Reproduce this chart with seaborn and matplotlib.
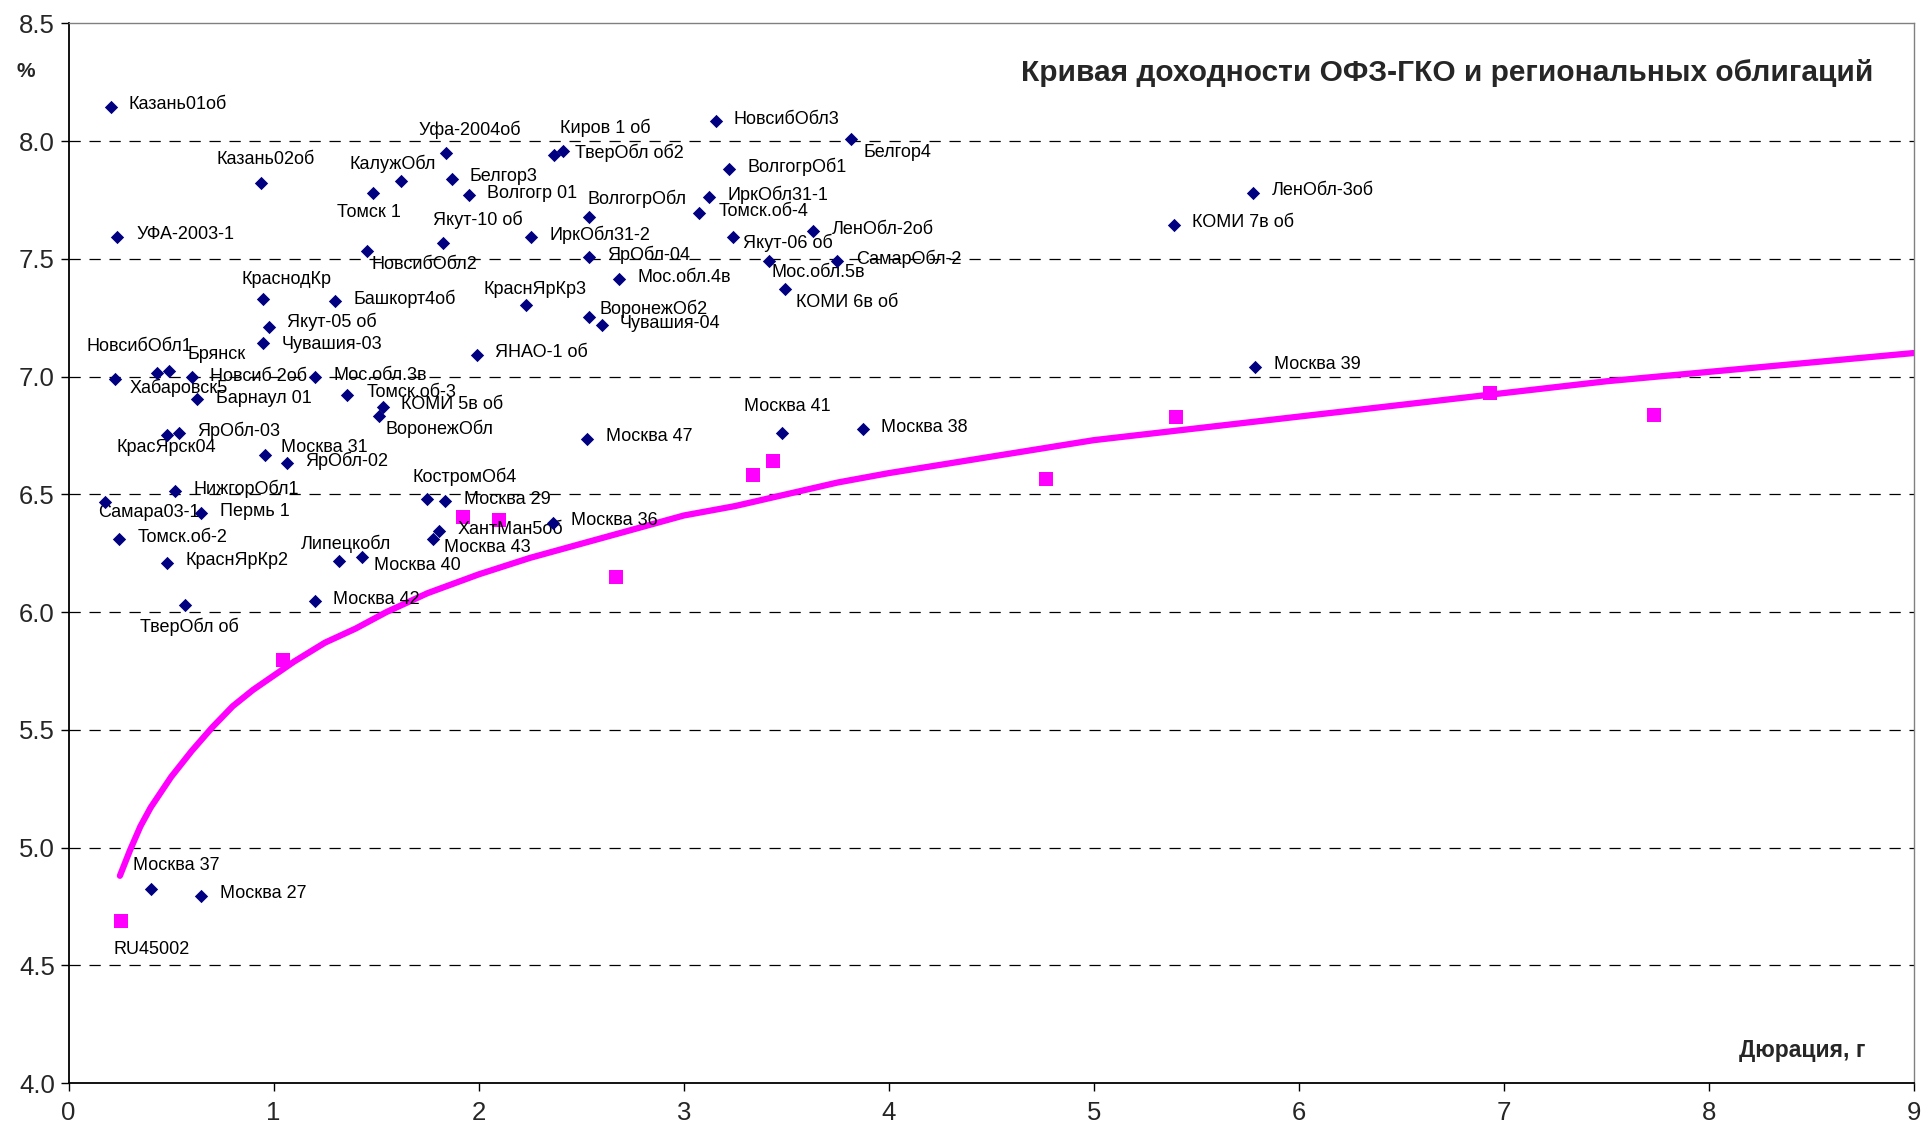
import matplotlib
matplotlib.use("Agg")
import pandas as pd
import seaborn as sns
import matplotlib.pyplot as plt

# regional bonds: name, duration (years), yield (%)
region_names = [
    "Казань01об", "УФА-2003-1", "Казань02об", "Томск 1", "КалужОбл", "Уфа-2004об",
    "Белгор3", "Волгогр 01", "Якут-10 об", "НовсибОбл2", "ИркОбл31-2", "Киров 1 об",
    "ТверОбл об2", "ВолгогрОбл", "ЯрОбл-04", "Мос.обл.4в", "КраснЯрКр3", "ВоронежОб2",
    "Чувашия-04", "ЯНАО-1 об", "НовсибОбл3", "ВолгогрОб1", "ИркОбл31-1", "Томск.об-4",
    "Якут-06 об", "Мос.обл.5в", "КОМИ 6в об", "ЛенОбл-2об", "СамарОбл-2", "Белгор4",
    "КОМИ 7в об", "ЛенОбл-3об", "Москва 39", "КраснодКр", "Башкорт4об", "Якут-05 об",
    "Чувашия-03", "НовсибОбл1", "Хабаровск5", "Брянск", "Новсиб 2об", "Мос.обл.3в",
    "Барнаул 01", "Томск.об-3", "КОМИ 5в об", "ВоронежОбл", "КрасЯрск04", "ЯрОбл-03",
    "Москва 31", "ЯрОбл-02", "НижгорОбл1", "Самара03-1", "Пермь 1", "Томск.об-2",
    "КраснЯрКр2", "ТверОбл об", "Липецкобл", "Москва 40", "Москва 42", "КостромОб4",
    "Москва 29", "ХантМан5об", "Москва 43", "Москва 36", "Москва 47", "Москва 41",
    "Москва 38", "Москва 37", "Москва 27",
]
region_dur = [
    0.206, 0.237, 0.939, 1.486, 1.620, 1.838,
    1.868, 1.954, 1.827, 1.456, 2.257, 2.368,
    2.412, 2.539, 2.539, 2.685, 2.229, 2.539,
    2.599, 1.993, 3.155, 3.222, 3.124, 3.075,
    3.241, 3.417, 3.493, 3.631, 3.748, 3.815,
    5.389, 5.778, 5.788, 0.949, 1.300, 0.978,
    0.949, 0.227, 0.432, 0.491, 0.600, 1.203,
    0.627, 1.359, 1.534, 1.513, 0.481, 0.539,
    0.959, 1.066, 0.518, 0.177, 0.647, 0.247,
    0.481, 0.567, 1.320, 1.429, 1.203, 1.747,
    1.837, 1.807, 1.775, 2.363, 2.529, 3.477,
    3.875, 0.403, 0.647,
]
region_yld = [
    8.146, 7.593, 7.820, 7.778, 7.830, 7.950,
    7.839, 7.771, 7.566, 7.533, 7.594, 7.939,
    7.956, 7.679, 7.509, 7.413, 7.303, 7.252,
    7.218, 7.092, 8.084, 7.881, 7.764, 7.693,
    7.594, 7.491, 7.372, 7.618, 7.491, 8.007,
    7.644, 7.781, 7.042, 7.328, 7.322, 7.212,
    7.141, 6.990, 7.016, 7.025, 6.999, 6.999,
    6.903, 6.922, 6.872, 6.834, 6.752, 6.759,
    6.667, 6.632, 6.514, 6.466, 6.419, 6.310,
    6.210, 6.030, 6.218, 6.232, 6.048, 6.480,
    6.472, 6.344, 6.309, 6.379, 6.735, 6.759,
    6.776, 4.823, 4.796,
]

# OFZ-GKO bonds
ofz_dur = [0.255, 1.047, 1.921, 2.100, 2.668, 3.339, 3.436, 4.765, 5.399, 6.930, 7.730]
ofz_yld = [4.688, 5.797, 6.405, 6.391, 6.148, 6.582, 6.641, 6.565, 6.830, 6.931, 6.837]

# zero-coupon curve
curve_dur = [0.25, 0.3, 0.35, 0.4, 0.5, 0.6, 0.7, 0.8, 0.9, 1.0, 1.1, 1.25, 1.4, 1.55,
             1.75, 2.0, 2.25, 2.5, 2.75, 3.0, 3.25, 3.5, 3.75, 4.0, 4.5, 5.0,
             5.5, 6.0, 6.5, 7.0, 7.5, 8.0, 8.5, 9.0]
curve_yld = [4.88, 4.99, 5.09, 5.17, 5.30, 5.41, 5.51, 5.60, 5.67, 5.73, 5.79, 5.87, 5.93, 6.00,
             6.08, 6.16, 6.23, 6.29, 6.35, 6.41, 6.45, 6.50, 6.55, 6.59, 6.66, 6.73,
             6.78, 6.83, 6.88, 6.93, 6.98, 7.02, 7.06, 7.10]

# label placement (pixels from the marker, image y goes down)
label_offsets = [
    (18, -2), (19, -2), (-45, -24), (-36, 19), (-51, -17), (-27, -23),
    (18, -2), (18, -2), (-10, -23), (4, 13), (18, -2), (6, -28),
    (12, 1), (-2, -18), (18, -2), (18, -2), (-42, -16), (10, -8),
    (18, -2), (18, -2), (18, -2), (18, -2), (18, -2), (19, -2),
    (10, 6), (2, 12), (11, 14), (19, -2), (19, -2), (13, 13),
    (18, -2), (18, -2), (19, -2), (-22, -20), (18, -2), (18, -5),
    (18, 1), (-29, -32), (-28, 15), (18, -16), (18, 0), (18, -1),
    (19, -1), (19, -2), (18, -2), (7, 13), (-51, 13), (18, -2),
    (16, -7), (18, -2), (19, -2), (-7, 10), (19, -2), (18, -2),
    (18, -2), (-45, 22), (-38, -17), (12, 8), (18, -1), (-14, -22),
    (19, -1), (18, -2), (11, 8), (18, -2), (19, -2), (-38, -27),
    (18, -2), (-18, -24), (19, -2),
]

sns.set_style("white")
plt.rcParams["font.family"] = ["Liberation Sans", "DejaVu Sans"]

fig = plt.figure(figsize=(19.23, 11.33), dpi=100)
ax = fig.add_axes([0.0357, 0.0441, 0.9596, 0.9353])

regional = pd.DataFrame({"name": region_names, "dur": region_dur, "yld": region_yld})
ofz = pd.DataFrame({"dur": ofz_dur, "yld": ofz_yld})
curve = pd.DataFrame({"dur": curve_dur, "yld": curve_yld})

sns.lineplot(data=curve, x="dur", y="yld", color="#FF00FF", lw=4.5, ax=ax, zorder=2)
sns.scatterplot(data=ofz, x="dur", y="yld", marker="s", s=100, color="#FF00FF",
                linewidth=0, ax=ax, zorder=3)
sns.scatterplot(data=regional, x="dur", y="yld", marker="D", s=46, color="#000080",
                linewidth=0, ax=ax, zorder=4)

for (name, x, y), (dx, dy) in zip(regional[["name", "dur", "yld"]].values, label_offsets):
    ax.annotate(name, (x, y), xytext=(dx, -dy), textcoords="offset pixels",
                ha="left", va="center", fontsize=13, color="black")
ax.annotate("RU45002", (ofz_dur[0], ofz_yld[0]), xytext=(-7, -28), textcoords="offset pixels",
            ha="left", va="center", fontsize=13, color="black")

ax.set_xlim(0, 9)
ax.set_ylim(4.0, 8.5)
ax.set_xticks(range(0, 10))
ax.set_yticks([4.0 + 0.5 * i for i in range(10)])
ax.yaxis.set_major_formatter(matplotlib.ticker.FormatStrFormatter("%.1f"))
ax.tick_params(axis="both", direction="out", length=6, width=1, color="black",
               labelsize=18.5, bottom=True, left=True)
ax.tick_params(axis="x", pad=7)
ax.tick_params(axis="y", pad=4)
ax.set_xlabel("")
ax.set_ylabel("")

ax.yaxis.grid(True, color="black", lw=0.9, linestyle=(0, (9, 7)))
ax.xaxis.grid(False)
ax.get_ygridlines()[0].set_visible(False)
ax.get_ygridlines()[-1].set_visible(False)

for side in ["left", "bottom"]:
    ax.spines[side].set_color("black")
    ax.spines[side].set_linewidth(1.3)
for side in ["top", "right"]:
    ax.spines[side].set_color("#808080")
    ax.spines[side].set_linewidth(1.0)

ax.text(0.978, 0.953, "Кривая доходности ОФЗ-ГКО и региональных облигаций",
        transform=ax.transAxes, ha="right", va="center", fontsize=21.5, fontweight="bold")
ax.text(0.9735, 0.031, "Дюрация, г", transform=ax.transAxes, ha="right", va="center",
        fontsize=16.5, fontweight="bold")
fig.text(0.0134, 0.937, "%", ha="center", va="center", fontsize=15, fontweight="bold")

fig.savefig("out.png", dpi=100)
